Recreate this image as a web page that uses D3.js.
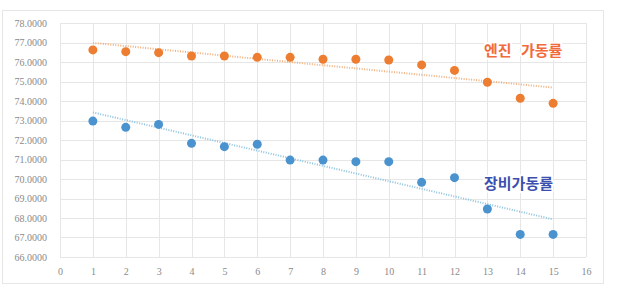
<!DOCTYPE html>
<html><head><meta charset="utf-8">
<script src="https://cdn.jsdelivr.net/npm/d3@7"></script>
<style>body{margin:0;background:#fff;}svg{display:block;}</style>
</head><body>
<svg id="c" width="620" height="288"></svg>
<script>
const xValues = [1,2,3,4,5,6,7,8,9,10,11,12,13,14,15];
const engineRate = [76.62,76.53,76.48,76.31,76.31,76.24,76.24,76.14,76.14,76.10,75.85,75.57,74.96,74.14,73.88];
const equipRate = [72.97,72.65,72.80,71.83,71.66,71.78,70.97,70.97,70.89,70.89,69.83,70.07,68.46,67.16,67.16];
const yTicks = [66,67,68,69,70,71,72,73,74,75,76,77,78];
const xTicks = [0,1,2,3,4,5,6,7,8,9,10,11,12,13,14,15,16];
const labelEngine = "엔진 가동률";
const labelEquip = "장비가동률";

const svg = d3.select("#c");
const m = {l:60, r:586, t:23, b:257};
const x = d3.scaleLinear().domain([0,16]).range([m.l, m.r]);
const y = d3.scaleLinear().domain([66,78]).range([m.b, m.t]);

svg.append("rect").attr("x",2.5).attr("y",10.5).attr("width",601).attr("height",273)
  .attr("fill","#fff").attr("stroke","#e6e6e6");

svg.append("g").selectAll("line").data(yTicks).join("line")
  .attr("x1",m.l).attr("x2",m.r).attr("y1",d=>Math.round(y(d))+0.5).attr("y2",d=>Math.round(y(d))+0.5)
  .attr("stroke","#e6e6e6");
svg.append("g").selectAll("line").data(xTicks).join("line")
  .attr("y1",m.t).attr("y2",m.b).attr("x1",d=>Math.round(x(d))+0.5).attr("x2",d=>Math.round(x(d))+0.5)
  .attr("stroke","#e6e6e6");

const yAxis = svg.append("g").attr("transform",`translate(${m.l},0)`)
  .call(d3.axisLeft(y).tickValues(yTicks).tickFormat(d3.format(".4f")).tickSize(0).tickPadding(13));
const xAxis = svg.append("g").attr("transform",`translate(0,${m.b})`)
  .call(d3.axisBottom(x).tickValues(xTicks).tickFormat(d3.format("d")).tickSize(0).tickPadding(11));
[yAxis,xAxis].forEach(g=>{
  g.select(".domain").remove();
  g.selectAll("text").attr("fill","#8a8a8a").attr("font-family","Liberation Serif, serif").attr("font-size",10);
});

function regress(xs, ys){
  const n=xs.length, mx=d3.mean(xs), my=d3.mean(ys);
  let sxy=0,sxx=0;
  for(let i=0;i<n;i++){sxy+=(xs[i]-mx)*(ys[i]-my); sxx+=(xs[i]-mx)**2;}
  const b=sxy/sxx, a=my-b*mx;
  return v=>a+b*v;
}

const series = [
  {vals: engineRate, color:"#ED7D31", trend:"#f0b07e"},
  {vals: equipRate, color:"#4a93cf", trend:"#8fc4df"}
];
series.forEach(s=>{
  const f = regress(xValues, s.vals);
  const x0 = d3.min(xValues), x1 = d3.max(xValues);
  svg.append("line").attr("x1",x(x0)).attr("x2",x(x1)).attr("y1",y(f(x0))).attr("y2",y(f(x1)))
    .attr("stroke",s.trend).attr("stroke-width",2).attr("stroke-dasharray","1,1.5");
  svg.append("g").selectAll("circle").data(xValues).join("circle")
    .attr("cx",d=>x(d)).attr("cy",(d,i)=>y(s.vals[i])).attr("r",4.5).attr("fill",s.color);
});

function label(txt, xx, yy, color){
  [["none","#fff",4],[color,"none",0]].forEach(([fill,stroke,sw])=>{
    svg.append("text").attr("x",xx).attr("y",yy).text(txt)
      .attr("font-family","Noto Sans CJK KR, sans-serif").attr("font-weight","bold").attr("font-size",15)
      .attr("word-spacing",6)
      .attr("fill",fill).attr("stroke",stroke).attr("stroke-width",sw).attr("stroke-linejoin","round");
  });
}
label(labelEngine, 484, 56, "#F26B3A");
label(labelEquip, 484, 189, "#3C4FAE");
</script>
</body></html>
